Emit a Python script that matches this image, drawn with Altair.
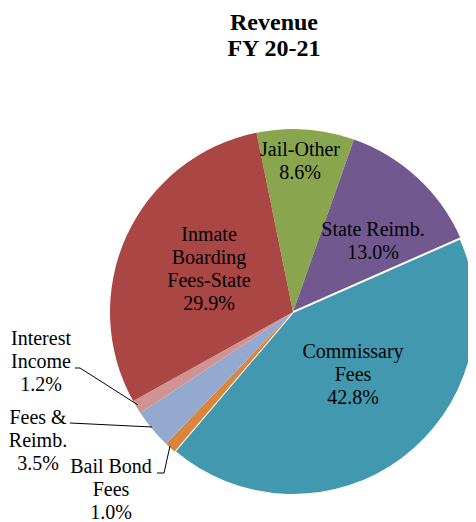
import math
import altair as alt
import pandas as pd

# ---- data ----
categories = ["Jail-Other", "State Reimb.", "Commissary Fees", "Bail Bond Fees",
              "Fees & Reimb.", "Interest Income", "Inmate Boarding Fees-State"]
shares = [8.6, 13.0, 42.8, 1.0, 3.5, 1.2, 29.9]
label_names = ["Jail-Other", "State Reimb.", "Commissary\nFees", "Bail Bond\nFees",
               "Fees &\nReimb.", "Interest\nIncome", "Inmate\nBoarding\nFees-State"]
title_lines = "Revenue\nFY 20-21"

# ---- styles / layout (page pixels) ----
colors = ["#89A54E", "#71588F", "#4198AF", "#DB843D", "#93A9CF", "#D19392", "#AA4643"]
label_x = [300, 373, 353, 111, 38, 41, 209]
label_y = [150, 230, 352, 467, 418, 339, 235]   # first line centre
leader_names = ["Interest Income", "Interest Income", "Interest Income",
                "Fees & Reimb.", "Fees & Reimb.",
                "Bail Bond Fees", "Bail Bond Fees", "Bail Bond Fees"]
leader_x = [75, 80, 138, 70, 152, 157, 164, 170]
leader_y = [368, 368, 405, 423, 427, 473, 473, 446]

W, H = 460, 514
CX, CY, R = 293, 312, 183
start = math.radians(-11.5) + 2 * math.pi
FONT = "Liberation Serif"

pie_df = pd.DataFrame({"category": categories, "share": shares,
                       "idx": list(range(len(categories)))})
lab_df = pd.DataFrame({
    "text": [n + "\n" + f"{s:.1f}%" for n, s in zip(label_names, shares)],
    "x": label_x, "y": label_y})
lead_df = pd.DataFrame({"g": leader_names, "x": leader_x, "y": leader_y,
                        "o": list(range(len(leader_x)))})
title_df = pd.DataFrame({"text": [title_lines], "x": [274], "y": [30]})

xs = alt.Scale(domain=[8, 8 + W])
ys = alt.Scale(domain=[8, 8 + H], reverse=True)

pie = alt.Chart(pie_df).mark_arc(radius=R, stroke="white").encode(
    theta=alt.Theta("share:Q", stack=True,
                    scale=alt.Scale(range=[start, start + 2 * math.pi])),
    order=alt.Order("idx:Q"),
    color=alt.Color("category:N", scale=alt.Scale(domain=categories, range=colors),
                    legend=None),
    strokeWidth=alt.condition(alt.datum.category == "Commissary Fees",
                              alt.value(2), alt.value(0)),
    x=alt.value(CX - 8), y=alt.value(CY - 8),
)

labels = alt.Chart(lab_df).mark_text(
    font=FONT, fontSize=20, lineBreak="\n", lineHeight=23,
    align="center", baseline="middle", color="black"
).encode(
    x=alt.X("x:Q", scale=xs, axis=None),
    y=alt.Y("y:Q", scale=ys, axis=None),
    text="text:N",
)

leaders = alt.Chart(lead_df).mark_line(color="black", strokeWidth=1).encode(
    x=alt.X("x:Q", scale=xs, axis=None),
    y=alt.Y("y:Q", scale=ys, axis=None),
    detail="g:N",
    order="o:Q",
)

title = alt.Chart(title_df).mark_text(
    font=FONT, fontSize=24, fontWeight="bold", lineBreak="\n", lineHeight=26,
    align="center", baseline="alphabetic", color="black"
).encode(
    x=alt.X("x:Q", scale=xs, axis=None),
    y=alt.Y("y:Q", scale=ys, axis=None),
    text="text:N",
)

chart = alt.layer(pie, leaders, labels, title).properties(
    width=W, height=H, autosize=alt.AutoSizeParams(type="none"), padding=0
).configure_view(stroke=None)

chart.save("out.html", embed_options={"renderer": "svg", "actions": False})
